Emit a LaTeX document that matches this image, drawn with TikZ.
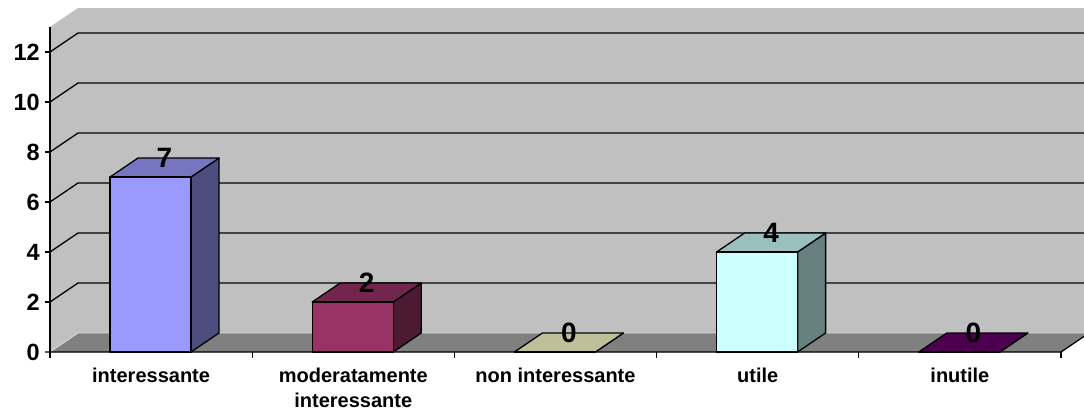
\documentclass[tikz,border=0pt]{standalone}
\usepackage{fontspec}
\setmainfont{Liberation Sans}
\definecolor{wall}{HTML}{C0C0C0}
\definecolor{floorc}{HTML}{808080}
\definecolor{aF}{HTML}{9999FF}\definecolor{aT}{HTML}{7575C2}\definecolor{aS}{HTML}{4D4D80}
\definecolor{bF}{HTML}{993366}\definecolor{bT}{HTML}{73264D}\definecolor{bS}{HTML}{4D1A33}
\definecolor{cF}{HTML}{FFFFCC}\definecolor{cT}{HTML}{BFBF99}\definecolor{cS}{HTML}{808066}
\definecolor{dF}{HTML}{CCFFFF}\definecolor{dT}{HTML}{99BFBF}\definecolor{dS}{HTML}{668080}
\definecolor{eF}{HTML}{660066}\definecolor{eT}{HTML}{4D004D}\definecolor{eS}{HTML}{330033}

\begin{document}
\begin{tikzpicture}[x=1pt,y=-1pt,
bar/.style = {draw=black, line width=1.3pt, line join=round},
grid line/.style = {black, line width=1.3pt},
cat lab/.style = {font=\bfseries\fontsize{20}{25}\selectfont,
     align=center, anchor=north, inner sep=0pt},
axis lab/.style = {font=\bfseries\fontsize{23.5}{25}\selectfont,
     anchor=east, inner sep=0pt},
val lab/.style = {font=\bfseries\fontsize{28}{30}\selectfont, inner sep=0pt}]

\useasboundingbox[fill=white] (0,0) rectangle (1084,415);
% walls and floor
\fill[wall] (78,8) rectangle (1084,333);
\fill[wall] (50,27) -- (78,8) -- (78,333) -- (50,352) -- cycle;
\fill[floorc] (50,352) -- (78,333) -- (1084,333) -- (1084,336.4) -- (1061,352) -- cycle;
\draw[gray!25, line width=0.8pt] (50,352) -- (78,333) -- (1084,333);
\foreach \v in {2,4,...,12} {
      \draw[grid line] (50,352-25*\v) -- (78,333-25*\v) -- (1084,333-25*\v);
      \draw[grid line] (45,352-25*\v) -- (50,352-25*\v);
    }
\foreach \v in {0,2,...,12} {
      \node[axis lab] (y\v) at (40,352-25*\v) {\v};
    }
\draw[grid line] (45,352) -- (1061,352) -- (1084,336.4);
\draw[grid line] (50,27) -- (50,352);
\foreach \k in {0,...,5} {
      \draw[grid line] (50+202.2*\k,352) -- (50+202.2*\k,358);
    }

% bars
\foreach \k/\v/\c in {0/7/a, 1/2/b, 2/0/c, 3/4/d, 4/0/e} {
      \pgfmathsetmacro{\xa}{110+202.2*\k}
      \pgfmathsetmacro{\ya}{352-25*\v}
      \draw[bar, fill=\c S] (\xa+81,352) -- (\xa+109,333) -- (\xa+109,\ya-19) -- (\xa+81,\ya) -- cycle;
      \draw[bar, fill=\c T] (\xa,\ya) -- (\xa+28,\ya-19) -- (\xa+109,\ya-19) -- (\xa+81,\ya) -- cycle;
      \draw[bar, fill=\c F] (\xa,352) rectangle (\xa+81,\ya);
      \node[val lab] (val\k) at (\xa+54.5,\ya-19.5) {\v};
    }

% category labels
\node[cat lab] (catA) at (151.1,367.5) {interessante};
\node[cat lab] (catB) at (353.3,367.5) {moderatamente\\interessante};
\node[cat lab] (catC) at (555.5,367.5) {non interessante};
\node[cat lab] (catD) at (757.7,367.5) {utile};
\node[cat lab] (catE) at (959.9,367.5) {inutile};

\end{tikzpicture}
\end{document}
